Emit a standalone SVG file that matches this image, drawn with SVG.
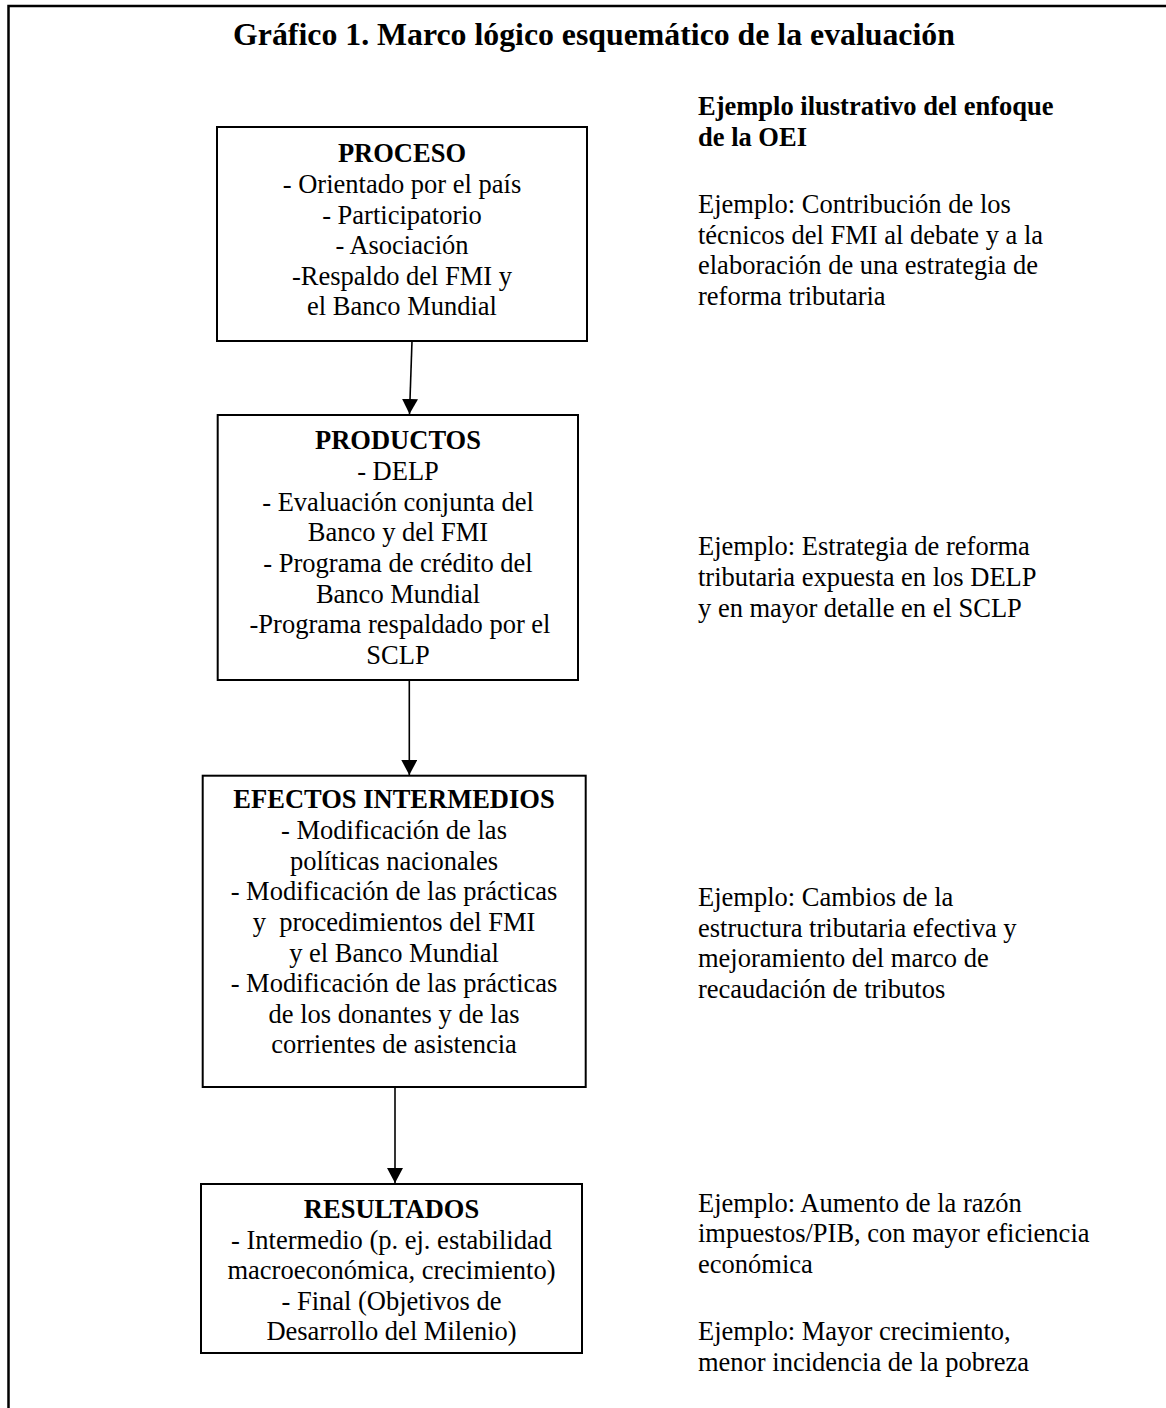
<svg xmlns="http://www.w3.org/2000/svg" width="1166" height="1408" viewBox="0 0 1166 1408">
<defs>
<style>
text{font-family:"Liberation Serif","Times New Roman",serif;fill:#000;}
.t{font-size:26.5px;}
.b{font-size:26.5px;font-weight:bold;}
.title{font-size:31.8px;font-weight:bold;}
.c{text-anchor:middle;}
.box{fill:#fff;stroke:#000;stroke-width:2;}
.conn{stroke:#000;stroke-width:1.6;fill:none;}
</style>
<marker id="arr" markerUnits="userSpaceOnUse" markerWidth="16" markerHeight="16" refX="15" refY="8" orient="auto">
<path d="M0,0 L15,8 L0,16 Z" fill="#000"/>
</marker>
</defs>
<rect x="0" y="0" width="1166" height="1408" fill="#fff"/>
<path d="M8.5,1408 V6 H1166" fill="none" stroke="#000" stroke-width="2.5"/>
<text class="title c" x="594" y="45">Gráfico 1. Marco lógico esquemático de la evaluación</text>

<g id="connectors">
<line class="conn" x1="412" y1="341" x2="409.5" y2="414" marker-end="url(#arr)"/>
<line class="conn" x1="409.3" y1="680" x2="409.3" y2="775" marker-end="url(#arr)"/>
<line class="conn" x1="395" y1="1087" x2="395" y2="1183" marker-end="url(#arr)"/>
</g>

<g id="proceso">
<rect class="box" x="217" y="127" width="370" height="214"/>
<text class="b c" x="402" y="162">PROCESO</text>
<text class="t c" x="402" y="193">- Orientado por el país</text>
<text class="t c" x="402" y="223.5">- Participatorio</text>
<text class="t c" x="402" y="254">- Asociación</text>
<text class="t c" x="402" y="284.5">-Respaldo del FMI y</text>
<text class="t c" x="402" y="315">el Banco Mundial</text>
</g>

<g id="productos">
<rect class="box" x="217.7" y="415" width="360.3" height="265"/>
<text class="b c" x="398" y="449">PRODUCTOS</text>
<text class="t c" x="398" y="480">- DELP</text>
<text class="t c" x="398" y="510.5">- Evaluación conjunta del</text>
<text class="t c" x="398" y="541">Banco y del FMI</text>
<text class="t c" x="398" y="572">- Programa de crédito del</text>
<text class="t c" x="398" y="602.5">Banco Mundial</text>
<text class="t c" x="400" y="633">-Programa respaldado por el</text>
<text class="t c" x="398" y="663.5">SCLP</text>
</g>

<g id="efectos">
<rect class="box" x="202.7" y="775.7" width="383" height="311.3"/>
<text class="b c" x="394" y="808">EFECTOS INTERMEDIOS</text>
<text class="t c" x="394" y="839">- Modificación de las</text>
<text class="t c" x="394" y="869.5">políticas nacionales</text>
<text class="t c" x="394" y="900">- Modificación de las prácticas</text>
<text class="t c" x="394" y="931" style="white-space:pre">y  procedimientos del FMI</text>
<text class="t c" x="394" y="961.5">y el Banco Mundial</text>
<text class="t c" x="394" y="992">- Modificación de las prácticas</text>
<text class="t c" x="394" y="1022.5">de los donantes y de las</text>
<text class="t c" x="394" y="1053">corrientes de asistencia</text>
</g>

<g id="resultados">
<rect class="box" x="201" y="1184" width="381" height="169"/>
<text class="b c" x="391.5" y="1218">RESULTADOS</text>
<text class="t c" x="391.5" y="1248.5">- Intermedio (p. ej. estabilidad</text>
<text class="t c" x="391.5" y="1279">macroeconómica, crecimiento)</text>
<text class="t c" x="391.5" y="1309.5">- Final (Objetivos de</text>
<text class="t c" x="391.5" y="1340">Desarrollo del Milenio)</text>
</g>

<g id="ejemplos">
<text class="b" x="698" y="114.5">Ejemplo ilustrativo del enfoque</text>
<text class="b" x="698" y="145.5">de la OEI</text>
<text class="t" x="698" y="212.5">Ejemplo: Contribución de los</text>
<text class="t" x="698" y="243.5">técnicos del FMI al debate y a la</text>
<text class="t" x="698" y="274">elaboración de una estrategia de</text>
<text class="t" x="698" y="304.5">reforma tributaria</text>
<text class="t" x="698" y="555">Ejemplo: Estrategia de reforma</text>
<text class="t" x="698" y="586">tributaria expuesta en los DELP</text>
<text class="t" x="698" y="616.5">y en mayor detalle en el SCLP</text>
<text class="t" x="698" y="906">Ejemplo: Cambios de la</text>
<text class="t" x="698" y="936.5">estructura tributaria efectiva y</text>
<text class="t" x="698" y="967">mejoramiento del marco de</text>
<text class="t" x="698" y="997.5">recaudación de tributos</text>
<text class="t" x="698" y="1212">Ejemplo: Aumento de la razón</text>
<text class="t" x="698" y="1242">impuestos/PIB, con mayor eficiencia</text>
<text class="t" x="698" y="1272.5">económica</text>
<text class="t" x="698" y="1340">Ejemplo: Mayor crecimiento,</text>
<text class="t" x="698" y="1370.5">menor incidencia de la pobreza</text>
</g>
</svg>
